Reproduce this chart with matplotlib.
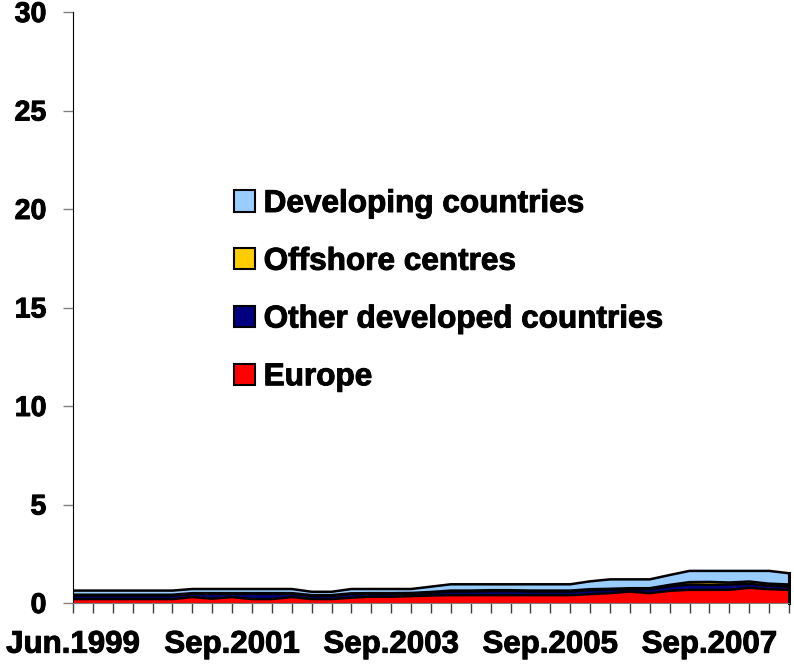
import numpy as np
import matplotlib
matplotlib.use("Agg")
import matplotlib.pyplot as plt
import matplotlib.patheffects as pe
from matplotlib.patches import Patch

plt.rcParams['font.family'] = ['Liberation Sans', 'DejaVu Sans']
plt.rcParams['font.weight'] = 'bold'

# quarterly observations, Jun.1999 onwards
europe = [0.20, 0.20, 0.20, 0.20, 0.20, 0.20, 0.30, 0.22, 0.30, 0.20,
          0.20, 0.30, 0.20, 0.20, 0.27, 0.32, 0.32, 0.35, 0.38, 0.40,
          0.40, 0.40, 0.40, 0.40, 0.40, 0.40, 0.45, 0.50, 0.58, 0.50,
          0.62, 0.67, 0.67, 0.67, 0.77, 0.70, 0.67]
other_dev = [0.18, 0.18, 0.18, 0.18, 0.18, 0.18, 0.16, 0.24, 0.16, 0.26,
             0.26, 0.16, 0.16, 0.16, 0.18, 0.14, 0.14, 0.12, 0.14, 0.18,
             0.18, 0.20, 0.20, 0.18, 0.18, 0.18, 0.20, 0.17, 0.12, 0.20,
             0.22, 0.27, 0.25, 0.27, 0.20, 0.18, 0.17]
offshore = [0.04, 0.04, 0.04, 0.04, 0.04, 0.04, 0.04, 0.04, 0.04, 0.04,
            0.04, 0.04, 0.04, 0.04, 0.04, 0.04, 0.04, 0.04, 0.04, 0.05,
            0.05, 0.05, 0.05, 0.05, 0.05, 0.05, 0.05, 0.05, 0.05, 0.05,
            0.08, 0.12, 0.15, 0.10, 0.12, 0.10, 0.10]
developing = [0.21, 0.21, 0.21, 0.21, 0.21, 0.21, 0.21, 0.21, 0.21, 0.21,
              0.21, 0.21, 0.17, 0.17, 0.22, 0.21, 0.21, 0.20, 0.27, 0.32,
              0.32, 0.30, 0.30, 0.32, 0.32, 0.32, 0.40, 0.48, 0.45, 0.45,
              0.50, 0.57, 0.56, 0.59, 0.54, 0.65, 0.57]

series_names = ["Europe", "Other developed countries", "Offshore centres",
                "Developing countries"]
series_colors = ["#FF0000", "#000080", "#FFCC00", "#99CCFF"]
tick_labels = ["Jun.1999", "Sep.2001", "Sep.2003", "Sep.2005", "Sep.2007"]

x = np.arange(len(europe))
layers = [europe, other_dev, offshore, developing]
bold_fx = [pe.withStroke(linewidth=0.7, foreground="black")]

fig = plt.figure(figsize=(7.94, 6.69), dpi=100)
ax = fig.add_axes([73 / 794, 66 / 669, 716 / 794, 591 / 669])

# filled bands, then black outlines along each band's top edge
ax.stackplot(x, *layers, colors=series_colors, linewidth=0)
tops = np.cumsum(np.array(layers), axis=0)
for top in tops:
    ax.plot(x, top, color="black", linewidth=1.8, solid_joinstyle="miter")
ax.plot([x[-1], x[-1]], [0, tops[-1][-1]], color="black", linewidth=2.2,
        clip_on=False)

ax.set_xlim(0, len(x) - 1)
ax.set_ylim(0, 30)
ax.set_yticks(range(0, 31, 5))
ax.set_xticks(x)
labels = [""] * len(x)
for i, lab in enumerate(tick_labels):
    labels[i * 8] = lab
ax.set_xticklabels(labels)

ax.tick_params(axis="y", direction="out", length=7.2, width=1, color="#808080",
               labelsize=20.5, pad=12)
ax.tick_params(axis="x", direction="out", length=7.2, width=1, color="#404040",
               labelsize=22.5, pad=12)
for lab in ax.get_xticklabels() + ax.get_yticklabels():
    lab.set_fontweight("bold")
    lab.set_path_effects(bold_fx)

ax.spines["top"].set_visible(False)
ax.spines["right"].set_visible(False)
ax.spines["left"].set_color("black")
ax.spines["bottom"].set_color("#808080")

handles = [Patch(facecolor=c, edgecolor="black", linewidth=1.5)
           for c in series_colors]
leg = fig.legend(handles[::-1], series_names[::-1], loc="upper left",
                 bbox_to_anchor=(234 / 794, 1 - 189 / 669),
                 bbox_transform=fig.transFigure,
                 frameon=False, borderpad=0, borderaxespad=0,
                 handlelength=0.68, handleheight=0.66, handletextpad=0.26,
                 labelspacing=0.88, prop={"size": 22.7, "weight": "bold"})
for t in leg.get_texts():
    t.set_path_effects(bold_fx)

fig.savefig("out.png", dpi=100)
